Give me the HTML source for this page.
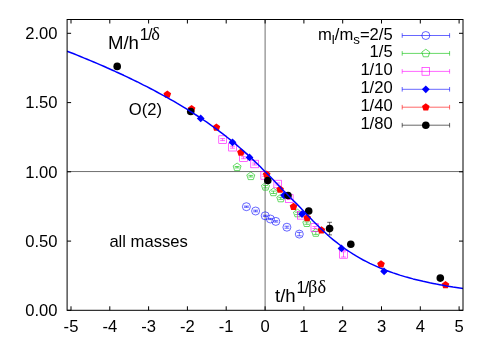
<!DOCTYPE html>
<html><head><meta charset="utf-8"><style>
html,body{margin:0;padding:0;background:#fff;}
svg{display:block;will-change:transform;font-family:"Liberation Sans",sans-serif;font-size:16.6px;fill:#000;}
</style></head><body>
<svg width="491" height="343" viewBox="0 0 491 343">
<rect width="491" height="343" fill="#fff"/>
<path d="M265.1 19.5V310.3M67.1 171.55H463.0" stroke="#707070" stroke-width="1" fill="none"/>
<path d="M71.0 310.3v-4M71.0 19.5v4M109.8 310.3v-4M109.8 19.5v4M148.6 310.3v-4M148.6 19.5v4M187.4 310.3v-4M187.4 19.5v4M226.2 310.3v-4M226.2 19.5v4M265.1 310.3v-4M265.1 19.5v4M303.9 310.3v-4M303.9 19.5v4M342.7 310.3v-4M342.7 19.5v4M381.5 310.3v-4M381.5 19.5v4M420.3 310.3v-4M420.3 19.5v4M459.1 310.3v-4M459.1 19.5v4M67.1 310.3h4M463.0 310.3h-4M67.1 241.1h4M463.0 241.1h-4M67.1 171.8h4M463.0 171.8h-4M67.1 102.6h4M463.0 102.6h-4M67.1 33.3h4M463.0 33.3h-4" stroke="#000" stroke-width="1" fill="none"/>
<text x="71.0" y="332.3" text-anchor="middle">-5</text><text x="109.8" y="332.3" text-anchor="middle">-4</text><text x="148.6" y="332.3" text-anchor="middle">-3</text><text x="187.4" y="332.3" text-anchor="middle">-2</text><text x="226.2" y="332.3" text-anchor="middle">-1</text><text x="265.1" y="332.3" text-anchor="middle">0</text><text x="303.9" y="332.3" text-anchor="middle">1</text><text x="342.7" y="332.3" text-anchor="middle">2</text><text x="381.5" y="332.3" text-anchor="middle">3</text><text x="420.3" y="332.3" text-anchor="middle">4</text><text x="459.1" y="332.3" text-anchor="middle">5</text>
<text x="57.5" y="316.1" text-anchor="end">0.00</text><text x="57.5" y="246.9" text-anchor="end">0.50</text><text x="57.5" y="177.6" text-anchor="end">1.00</text><text x="57.5" y="108.4" text-anchor="end">1.50</text><text x="57.5" y="39.1" text-anchor="end">2.00</text>
<text x="392.7" y="39.5" text-anchor="end">m<tspan font-size="13.3" dy="4.9">l</tspan><tspan dy="-4.9">/m</tspan><tspan font-size="13.3" dy="4.9">s</tspan><tspan dy="-4.9">=2/5</tspan></text><text x="392.7" y="57.4" text-anchor="end">1/5</text><text x="392.7" y="75.4" text-anchor="end">1/10</text><text x="392.7" y="93.3" text-anchor="end">1/20</text><text x="392.7" y="111.2" text-anchor="end">1/40</text><text x="392.7" y="129.2" text-anchor="end">1/80</text>
<text x="107.9" y="48.6" font-size="18.6">M/h<tspan font-size="16.2" dy="-9.1" dx="0.9 -0.9">1/</tspan><tspan font-size="18.4" font-family="Liberation Serif" dx="-1.1" dy="0.3">δ</tspan></text>
<text x="275.0" y="301.8" font-size="18.6">t/h<tspan font-size="16.2" dy="-8.9" dx="0.9 -0.9">1/</tspan><tspan font-size="18.4" font-family="Liberation Serif" dx="-1.1" dy="0.3">βδ</tspan></text>
<text x="128.8" y="114.8">O(2)</text>
<text x="109.4" y="246.6">all masses</text>
<path d="M402.2 35.5H449.6M402.2 33.2v4.6M449.6 33.2v4.6" stroke="#0000ff" stroke-width="0.6" fill="none"/>
<circle cx="425.8" cy="35.5" r="4.0" fill="none" stroke="#0000ff" stroke-width="0.6"/>
<path d="M246.4 206.1V207.3M244.0 206.1h4.8M244.0 207.3h4.8" stroke="#0000ff" stroke-width="0.6" fill="none"/>
<circle cx="246.4" cy="206.7" r="4.0" fill="none" stroke="#0000ff" stroke-width="0.6"/>
<path d="M255.6 210.2V211.8M253.2 210.2h4.8M253.2 211.8h4.8" stroke="#0000ff" stroke-width="0.6" fill="none"/>
<circle cx="255.6" cy="211.0" r="4.0" fill="none" stroke="#0000ff" stroke-width="0.6"/>
<path d="M265.2 215.2V216.4M262.8 215.2h4.8M262.8 216.4h4.8" stroke="#0000ff" stroke-width="0.6" fill="none"/>
<circle cx="265.2" cy="215.8" r="4.0" fill="none" stroke="#0000ff" stroke-width="0.6"/>
<path d="M270.4 218.4V219.6M268.0 218.4h4.8M268.0 219.6h4.8" stroke="#0000ff" stroke-width="0.6" fill="none"/>
<circle cx="270.4" cy="219" r="4.0" fill="none" stroke="#0000ff" stroke-width="0.6"/>
<path d="M275.8 220.7V222.1M273.4 220.7h4.8M273.4 222.1h4.8" stroke="#0000ff" stroke-width="0.6" fill="none"/>
<circle cx="275.8" cy="221.4" r="4.0" fill="none" stroke="#0000ff" stroke-width="0.6"/>
<path d="M286.9 226.2V228.2M284.5 226.2h4.8M284.5 228.2h4.8" stroke="#0000ff" stroke-width="0.6" fill="none"/>
<circle cx="286.9" cy="227.2" r="4.0" fill="none" stroke="#0000ff" stroke-width="0.6"/>
<path d="M299.3 232.4V235.8M296.9 232.4h4.8M296.9 235.8h4.8" stroke="#0000ff" stroke-width="0.6" fill="none"/>
<circle cx="299.3" cy="234.1" r="4.0" fill="none" stroke="#0000ff" stroke-width="0.6"/>
<path d="M402.2 53.4H449.6M402.2 51.1v4.6M449.6 51.1v4.6" stroke="#00c000" stroke-width="0.6" fill="none"/>
<polygon points="425.80,49.20 429.79,52.10 428.27,56.80 423.33,56.80 421.81,52.10" fill="none" stroke="#00c000" stroke-width="0.6"/>
<path d="M237.1 166.5V167.9M234.7 166.5h4.8M234.7 167.9h4.8" stroke="#00c000" stroke-width="0.6" fill="none"/>
<polygon points="237.10,163.00 241.09,165.90 239.57,170.60 234.63,170.60 233.11,165.90" fill="none" stroke="#00c000" stroke-width="0.6"/>
<path d="M250.8 175.4V177.0M248.4 175.4h4.8M248.4 177.0h4.8" stroke="#00c000" stroke-width="0.6" fill="none"/>
<polygon points="250.80,172.00 254.79,174.90 253.27,179.60 248.33,179.60 246.81,174.90" fill="none" stroke="#00c000" stroke-width="0.6"/>
<path d="M265.5 185.5V187.9M263.1 185.5h4.8M263.1 187.9h4.8" stroke="#00c000" stroke-width="0.6" fill="none"/>
<polygon points="265.50,182.50 269.49,185.40 267.97,190.10 263.03,190.10 261.51,185.40" fill="none" stroke="#00c000" stroke-width="0.6"/>
<path d="M273.4 191.1V193.5M271.0 191.1h4.8M271.0 193.5h4.8" stroke="#00c000" stroke-width="0.6" fill="none"/>
<polygon points="273.40,188.10 277.39,191.00 275.87,195.70 270.93,195.70 269.41,191.00" fill="none" stroke="#00c000" stroke-width="0.6"/>
<path d="M280.8 197.4V199.4M278.4 197.4h4.8M278.4 199.4h4.8" stroke="#00c000" stroke-width="0.6" fill="none"/>
<polygon points="280.80,194.20 284.79,197.10 283.27,201.80 278.33,201.80 276.81,197.10" fill="none" stroke="#00c000" stroke-width="0.6"/>
<path d="M297.5 212.2V214.6M295.1 212.2h4.8M295.1 214.6h4.8" stroke="#00c000" stroke-width="0.6" fill="none"/>
<polygon points="297.50,209.20 301.49,212.10 299.97,216.80 295.03,216.80 293.51,212.10" fill="none" stroke="#00c000" stroke-width="0.6"/>
<path d="M306.8 221.9V224.3M304.4 221.9h4.8M304.4 224.3h4.8" stroke="#00c000" stroke-width="0.6" fill="none"/>
<polygon points="306.80,218.90 310.79,221.80 309.27,226.50 304.33,226.50 302.81,221.80" fill="none" stroke="#00c000" stroke-width="0.6"/>
<path d="M315.8 231.4V234.4M313.4 231.4h4.8M313.4 234.4h4.8" stroke="#00c000" stroke-width="0.6" fill="none"/>
<polygon points="315.80,228.70 319.79,231.60 318.27,236.30 313.33,236.30 311.81,231.60" fill="none" stroke="#00c000" stroke-width="0.6"/>
<path d="M402.2 71.4H449.6M402.2 69.1v4.6M449.6 69.1v4.6" stroke="#ff00ff" stroke-width="0.6" fill="none"/>
<rect x="422.0" y="67.6" width="7.6" height="7.6" fill="none" stroke="#ff00ff" stroke-width="0.6"/>
<path d="M222.6 138.6V140.6M220.2 138.6h4.8M220.2 140.6h4.8" stroke="#ff00ff" stroke-width="0.6" fill="none"/>
<rect x="218.8" y="135.8" width="7.6" height="7.6" fill="none" stroke="#ff00ff" stroke-width="0.6"/>
<path d="M232.5 146.2V148.2M230.1 146.2h4.8M230.1 148.2h4.8" stroke="#ff00ff" stroke-width="0.6" fill="none"/>
<rect x="228.7" y="143.4" width="7.6" height="7.6" fill="none" stroke="#ff00ff" stroke-width="0.6"/>
<path d="M243.5 156.7V158.7M241.1 156.7h4.8M241.1 158.7h4.8" stroke="#ff00ff" stroke-width="0.6" fill="none"/>
<rect x="239.7" y="153.9" width="7.6" height="7.6" fill="none" stroke="#ff00ff" stroke-width="0.6"/>
<path d="M254.6 163.0V165.0M252.2 163.0h4.8M252.2 165.0h4.8" stroke="#ff00ff" stroke-width="0.6" fill="none"/>
<rect x="250.8" y="160.2" width="7.6" height="7.6" fill="none" stroke="#ff00ff" stroke-width="0.6"/>
<path d="M264.7 174.4V176.4M262.3 174.4h4.8M262.3 176.4h4.8" stroke="#ff00ff" stroke-width="0.6" fill="none"/>
<rect x="260.9" y="171.6" width="7.6" height="7.6" fill="none" stroke="#ff00ff" stroke-width="0.6"/>
<path d="M277.7 183.0V185.0M275.3 183.0h4.8M275.3 185.0h4.8" stroke="#ff00ff" stroke-width="0.6" fill="none"/>
<rect x="273.9" y="180.2" width="7.6" height="7.6" fill="none" stroke="#ff00ff" stroke-width="0.6"/>
<path d="M289.3 197.5V199.5M286.9 197.5h4.8M286.9 199.5h4.8" stroke="#ff00ff" stroke-width="0.6" fill="none"/>
<rect x="285.5" y="194.7" width="7.6" height="7.6" fill="none" stroke="#ff00ff" stroke-width="0.6"/>
<path d="M301.2 214.3V216.3M298.8 214.3h4.8M298.8 216.3h4.8" stroke="#ff00ff" stroke-width="0.6" fill="none"/>
<rect x="297.4" y="211.5" width="7.6" height="7.6" fill="none" stroke="#ff00ff" stroke-width="0.6"/>
<path d="M314.8 226.5V228.5M312.4 226.5h4.8M312.4 228.5h4.8" stroke="#ff00ff" stroke-width="0.6" fill="none"/>
<rect x="311.0" y="223.7" width="7.6" height="7.6" fill="none" stroke="#ff00ff" stroke-width="0.6"/>
<path d="M343.5 251.8V257.0M341.1 251.8h4.8M341.1 257.0h4.8" stroke="#ff00ff" stroke-width="0.6" fill="none"/>
<rect x="339.7" y="250.6" width="7.6" height="7.6" fill="none" stroke="#ff00ff" stroke-width="0.6"/>
<path d="M402.2 89.3H449.6M402.2 87.0v4.6M449.6 87.0v4.6" stroke="#0000ff" stroke-width="0.6" fill="none"/>
<polygon points="421.9,89.3 425.8,85.4 429.7,89.3 425.8,93.2" fill="#0000ff"/>
<path d="M200.7 117.4V119.4M198.3 117.4h4.8M198.3 119.4h4.8" stroke="#0000ff" stroke-width="0.6" fill="none"/>
<polygon points="196.8,118.4 200.7,114.5 204.6,118.4 200.7,122.3" fill="#0000ff"/>
<path d="M232.5 141.3V143.3M230.1 141.3h4.8M230.1 143.3h4.8" stroke="#0000ff" stroke-width="0.6" fill="none"/>
<polygon points="228.6,142.3 232.5,138.4 236.4,142.3 232.5,146.2" fill="#0000ff"/>
<path d="M249.5 156.4V158.4M247.1 156.4h4.8M247.1 158.4h4.8" stroke="#0000ff" stroke-width="0.6" fill="none"/>
<polygon points="245.6,157.4 249.5,153.5 253.4,157.4 249.5,161.3" fill="#0000ff"/>
<path d="M284.0 194.3V196.3M281.6 194.3h4.8M281.6 196.3h4.8" stroke="#0000ff" stroke-width="0.6" fill="none"/>
<polygon points="280.1,195.3 284,191.4 287.9,195.3 284,199.2" fill="#0000ff"/>
<path d="M302.0 213.1V215.1M299.6 213.1h4.8M299.6 215.1h4.8" stroke="#0000ff" stroke-width="0.6" fill="none"/>
<polygon points="298.1,214.1 302,210.2 305.9,214.1 302,218.0" fill="#0000ff"/>
<path d="M341.5 247.4V249.4M339.1 247.4h4.8M339.1 249.4h4.8" stroke="#0000ff" stroke-width="0.6" fill="none"/>
<polygon points="337.6,248.4 341.5,244.5 345.4,248.4 341.5,252.3" fill="#0000ff"/>
<path d="M384.1 270.3V272.3M381.7 270.3h4.8M381.7 272.3h4.8" stroke="#0000ff" stroke-width="0.6" fill="none"/>
<polygon points="380.2,271.3 384.1,267.4 388.0,271.3 384.1,275.2" fill="#0000ff"/>
<path d="M402.2 107.2H449.6M402.2 104.9v4.6M449.6 104.9v4.6" stroke="#ff0000" stroke-width="0.6" fill="none"/>
<polygon points="425.80,103.20 429.60,105.96 428.15,110.44 423.45,110.44 422.00,105.96" fill="#ff0000"/>
<path d="M167.3 93.5V95.5M164.9 93.5h4.8M164.9 95.5h4.8" stroke="#ff0000" stroke-width="0.6" fill="none"/>
<polygon points="167.30,90.50 171.10,93.26 169.65,97.74 164.95,97.74 163.50,93.26" fill="#ff0000"/>
<path d="M191.6 108.1V110.1M189.2 108.1h4.8M189.2 110.1h4.8" stroke="#ff0000" stroke-width="0.6" fill="none"/>
<polygon points="191.60,105.10 195.40,107.86 193.95,112.34 189.25,112.34 187.80,107.86" fill="#ff0000"/>
<path d="M216.4 126.6V128.6M214.0 126.6h4.8M214.0 128.6h4.8" stroke="#ff0000" stroke-width="0.6" fill="none"/>
<polygon points="216.40,123.60 220.20,126.36 218.75,130.84 214.05,130.84 212.60,126.36" fill="#ff0000"/>
<path d="M240.9 151.4V153.4M238.5 151.4h4.8M238.5 153.4h4.8" stroke="#ff0000" stroke-width="0.6" fill="none"/>
<polygon points="240.90,148.40 244.70,151.16 243.25,155.64 238.55,155.64 237.10,151.16" fill="#ff0000"/>
<path d="M266.7 173.6V175.6M264.3 173.6h4.8M264.3 175.6h4.8" stroke="#ff0000" stroke-width="0.6" fill="none"/>
<polygon points="266.70,170.60 270.50,173.36 269.05,177.84 264.35,177.84 262.90,173.36" fill="#ff0000"/>
<path d="M280.1 188.6V190.6M277.7 188.6h4.8M277.7 190.6h4.8" stroke="#ff0000" stroke-width="0.6" fill="none"/>
<polygon points="280.10,185.60 283.90,188.36 282.45,192.84 277.75,192.84 276.30,188.36" fill="#ff0000"/>
<path d="M293.5 205.7V207.7M291.1 205.7h4.8M291.1 207.7h4.8" stroke="#ff0000" stroke-width="0.6" fill="none"/>
<polygon points="293.50,202.70 297.30,205.46 295.85,209.94 291.15,209.94 289.70,205.46" fill="#ff0000"/>
<path d="M307.2 217.1V219.1M304.8 217.1h4.8M304.8 219.1h4.8" stroke="#ff0000" stroke-width="0.6" fill="none"/>
<polygon points="307.20,214.10 311.00,216.86 309.55,221.34 304.85,221.34 303.40,216.86" fill="#ff0000"/>
<path d="M321.4 229.2V231.2M319.0 229.2h4.8M319.0 231.2h4.8" stroke="#ff0000" stroke-width="0.6" fill="none"/>
<polygon points="321.40,226.20 325.20,228.96 323.75,233.44 319.05,233.44 317.60,228.96" fill="#ff0000"/>
<path d="M381.0 263.2V265.2M378.6 263.2h4.8M378.6 265.2h4.8" stroke="#ff0000" stroke-width="0.6" fill="none"/>
<polygon points="381.00,260.20 384.80,262.96 383.35,267.44 378.65,267.44 377.20,262.96" fill="#ff0000"/>
<path d="M445.5 283.9V285.9M443.1 283.9h4.8M443.1 285.9h4.8" stroke="#ff0000" stroke-width="0.6" fill="none"/>
<polygon points="445.50,280.90 449.30,283.66 447.85,288.14 443.15,288.14 441.70,283.66" fill="#ff0000"/>
<path d="M402.2 125.2H449.6M402.2 122.9v4.6M449.6 122.9v4.6" stroke="#000000" stroke-width="0.6" fill="none"/>
<circle cx="425.8" cy="125.2" r="3.8" fill="#000000"/>
<path d="M117.2 65.4V67.4M114.8 65.4h4.8M114.8 67.4h4.8" stroke="#000000" stroke-width="0.6" fill="none"/>
<circle cx="117.2" cy="66.4" r="3.8" fill="#000000"/>
<path d="M190.7 110.5V112.5M188.3 110.5h4.8M188.3 112.5h4.8" stroke="#000000" stroke-width="0.6" fill="none"/>
<circle cx="190.7" cy="111.5" r="3.8" fill="#000000"/>
<path d="M267.8 179.5V181.5M265.4 179.5h4.8M265.4 181.5h4.8" stroke="#000000" stroke-width="0.6" fill="none"/>
<circle cx="267.8" cy="180.5" r="3.8" fill="#000000"/>
<path d="M288.0 194.5V196.5M285.6 194.5h4.8M285.6 196.5h4.8" stroke="#000000" stroke-width="0.6" fill="none"/>
<circle cx="288" cy="195.5" r="3.8" fill="#000000"/>
<path d="M308.7 210.0V212.0M306.3 210.0h4.8M306.3 212.0h4.8" stroke="#000000" stroke-width="0.6" fill="none"/>
<circle cx="308.7" cy="211" r="3.8" fill="#000000"/>
<path d="M329.6 222.3V234.9M327.2 222.3h4.8M327.2 234.9h4.8" stroke="#000000" stroke-width="0.6" fill="none"/>
<circle cx="329.6" cy="228.6" r="3.8" fill="#000000"/>
<path d="M350.8 243.2V245.2M348.4 243.2h4.8M348.4 245.2h4.8" stroke="#000000" stroke-width="0.6" fill="none"/>
<circle cx="350.8" cy="244.2" r="3.8" fill="#000000"/>
<path d="M440.3 277.1V279.1M437.9 277.1h4.8M437.9 279.1h4.8" stroke="#000000" stroke-width="0.6" fill="none"/>
<circle cx="440.3" cy="278.1" r="3.8" fill="#000000"/>
<polyline points="67.1,51.2 70.4,52.5 73.8,53.8 77.1,55.1 80.4,56.5 83.7,57.9 87.1,59.2 90.4,60.6 93.7,62.0 97.0,63.4 100.4,64.9 103.7,66.3 107.0,67.8 110.3,69.2 113.7,70.7 117.0,72.3 120.3,73.8 123.7,75.3 127.0,76.9 130.3,78.5 133.6,80.1 137.0,81.7 140.3,83.4 143.6,85.1 146.9,86.7 150.3,88.5 153.6,90.2 156.9,92.0 160.3,93.8 163.6,95.6 166.9,97.4 170.2,99.3 173.6,101.2 176.9,103.2 180.2,105.1 183.5,107.1 186.9,109.2 190.2,111.3 193.5,113.4 196.8,115.5 200.2,117.7 203.5,120.0 206.8,122.2 210.2,124.6 213.5,127.0 216.8,129.4 220.1,131.9 223.5,134.4 226.8,137.0 230.1,139.7 233.4,142.4 236.8,145.2 240.1,148.0 243.4,150.9 246.8,153.9 250.1,157.0 253.4,160.1 256.7,163.3 260.1,166.5 263.4,169.9 266.7,173.2 270.0,176.6 273.4,180.1 276.7,183.5 280.0,187.0 283.3,190.4 286.7,193.8 290.0,197.2 293.3,200.5 296.7,203.9 300.0,207.3 303.3,210.7 306.6,214.2 310.0,217.7 313.3,221.2 316.6,224.5 319.9,227.8 323.3,231.0 326.6,234.0 329.9,237.0 333.3,239.8 336.6,242.4 339.9,245.0 343.2,247.5 346.6,249.8 349.9,252.0 353.2,254.2 356.5,256.2 359.9,258.1 363.2,260.0 366.5,261.7 369.8,263.4 373.2,264.9 376.5,266.4 379.8,267.9 383.2,269.2 386.5,270.5 389.8,271.7 393.1,272.9 396.5,274.0 399.8,275.1 403.1,276.1 406.4,277.1 409.8,278.0 413.1,278.9 416.4,279.7 419.8,280.5 423.1,281.3 426.4,282.0 429.7,282.8 433.1,283.4 436.4,284.1 439.7,284.7 443.0,285.3 446.4,285.9 449.7,286.4 453.0,287.0 456.3,287.5 459.7,288.0 463.0,288.5" fill="none" stroke="#0000ff" stroke-width="1.5" stroke-linejoin="round"/>
<rect x="67.1" y="19.5" width="395.9" height="290.8" fill="none" stroke="#000" stroke-width="1"/>
</svg>
</body></html>
